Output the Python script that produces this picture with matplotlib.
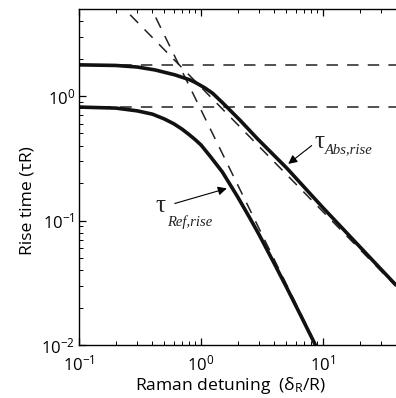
import matplotlib
matplotlib.use('Agg')
import matplotlib.pyplot as plt

plt.rcParams['font.family'] = ['Open Sans', 'DejaVu Sans']
plt.rcParams['mathtext.fontset'] = 'custom'
plt.rcParams['mathtext.rm'] = 'Open Sans'
plt.rcParams['mathtext.it'] = 'Open Sans:italic'
plt.rcParams['mathtext.default'] = 'regular'

# curves (x = detuning, y = rise time)
x_abs = [0.1, 0.2, 0.3, 0.42, 0.61, 0.81, 0.9, 1.08, 1.25, 1.51, 2.09, 2.88, 5.07, 10.0, 38.9]
y_abs = [1.78, 1.76, 1.71, 1.62, 1.48, 1.35, 1.285, 1.16, 1.05, 0.88, 0.64, 0.458, 0.263, 0.127, 0.031]
x_ref = [0.1, 0.2, 0.3, 0.4, 0.5, 0.6, 0.7, 0.8, 0.9, 1.0, 1.2, 1.5, 2.0, 2.5, 3.0, 4.0, 5.0, 6.5, 8.6]
y_ref = [0.815, 0.80, 0.76, 0.715, 0.655, 0.598, 0.542, 0.49, 0.445, 0.405, 0.325, 0.245,
         0.155, 0.106, 0.077, 0.045, 0.0295, 0.0177, 0.0102]

# limits (dashed): plateaus and high-detuning asymptotes
plateaus = [1.78, 0.815]
x_asym1, y_asym1 = [0.2, 40.0], [5.9, 0.0295]      # ~1/x
x_asym2, y_asym2 = [0.35, 10.0], [6.33, 0.00775]   # ~1/x^2

XLIM = (0.1, 10 ** 1.6)
YLIM = (0.01, 5.0)

W, H = 396, 398
fig = plt.figure(figsize=(W / 100, H / 100), dpi=100)
ax = fig.add_axes([79 / W, 1 - 345 / H, (W - 79) / W, (345 - 9) / H])
ax.set_xscale('log'); ax.set_yscale('log')
ax.set_xlim(*XLIM); ax.set_ylim(*YLIM)

dash = (0, (7.5, 6.0))
for lev in plateaus:
    ax.plot(XLIM, [lev, lev], color='#222222', lw=1.1, ls=dash)
ax.plot(x_asym1, y_asym1, color='#222222', lw=1.1, ls=dash)
ax.plot(x_asym2, y_asym2, color='#222222', lw=1.1, ls=dash)

ax.plot(x_abs, y_abs, color='#111111', lw=2.6, solid_joinstyle='round')
ax.plot(x_ref, y_ref, color='#111111', lw=2.6, solid_joinstyle='round')

arrow = dict(arrowstyle='-|>', color='k', lw=0.8, mutation_scale=13, shrinkA=0, shrinkB=0)
ax.annotate('', xy=(5.2, 0.285), xytext=(8.1, 0.40), arrowprops=arrow)
ax.annotate('', xy=(1.63, 0.181), xytext=(0.61, 0.137), arrowprops=arrow)

serif = 'Liberation Serif'
ax.text(8.6, 0.381, 'τ', family=serif, fontsize=18, color='#222222')
ax.text(10.4, 0.347, 'Abs,rise', family=serif, style='italic', fontsize=10.5, color='#222222')
ax.text(0.42, 0.116, 'τ', family=serif, fontsize=18, color='#222222')
ax.text(0.526, 0.091, 'Ref,rise', family=serif, style='italic', fontsize=10.5, color='#222222')

for s in ('left', 'bottom', 'top'):
    ax.spines[s].set_linewidth(1.0)
ax.spines['right'].set_visible(False)
ax.tick_params(which='both', direction='in', top=True, right=False, labelsize=12)
ax.tick_params(which='major', length=5, width=0.9)
ax.tick_params(which='minor', length=3, width=0.7)
ax.tick_params(axis='x', which='major', pad=7)
ax.tick_params(axis='y', which='major', pad=3)

ax.set_xlabel('Raman detuning  (δ$_R$/R)', fontsize=12.6)
ax.xaxis.set_label_coords((231 - 79) / (W - 79), (345 - 385) / (345 - 9))
ax.xaxis.label.set_va('center')
ax.set_ylabel('Rise time (τR)', fontsize=12.6)
ax.yaxis.set_label_coords((28 - 79) / (W - 79), (345 - 201) / (345 - 9))
ax.yaxis.label.set_va('center')

fig.savefig('out.png', dpi=100)
